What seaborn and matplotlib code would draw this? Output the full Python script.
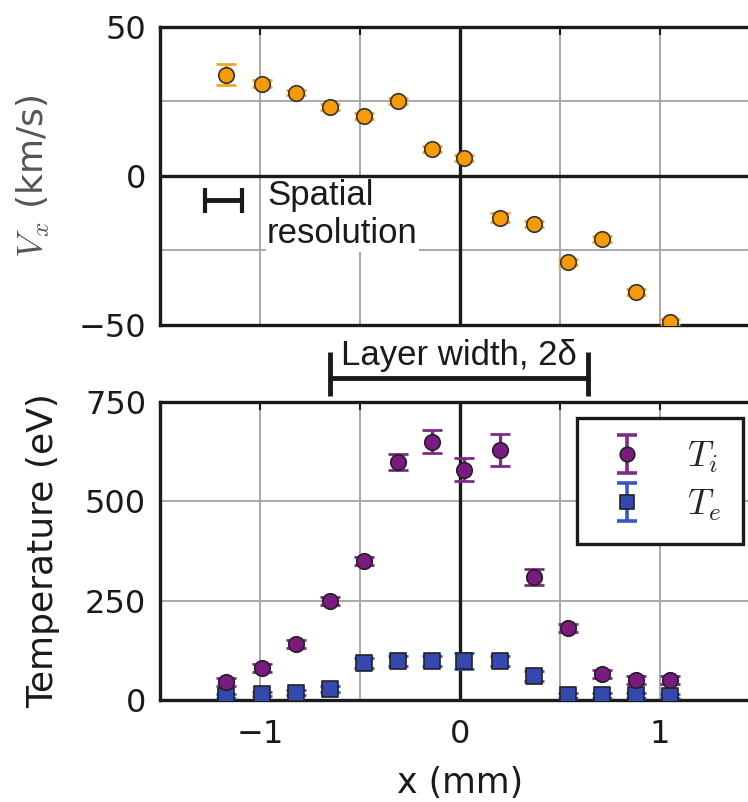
import numpy as np
import pandas as pd
import matplotlib
matplotlib.use('Agg')
import matplotlib.pyplot as plt
import matplotlib.transforms as mtransforms
from matplotlib.path import Path
from matplotlib.lines import Line2D
import seaborn as sns

# ---------------- data ----------------
x_mm = [-1.17, -0.99, -0.82, -0.65, -0.48, -0.31, -0.14, 0.02, 0.20, 0.37, 0.54, 0.71, 0.88, 1.05]
vx = [34, 31, 28, 23, 20, 25, 9, 6, -14, -16, -29, -21, -39, -49]
vx_err = [3.6, 1.2, 1.0, 1.0, 1.0, 1.0, 1.0, 1.0, 1.5, 1.0, 1.0, 1.0, 1.0, 1.0]
ti = [45, 80, 140, 250, 350, 600, 650, 580, 630, 310, 180, 65, 50, 50]
ti_err = [10, 10, 10, 10, 10, 20, 29, 28, 40, 20, 10, 10, 10, 10]
te = [10, 15, 18, 28, 93, 98, 98, 98, 98, 60, 12, 12, 12, 10]
te_err = [6, 6, 6, 8, 12, 12, 12, 21, 12, 12, 6, 6, 6, 6]

x_major = [-1, 0, 1]
x_minor = [-1.5, -0.5, 0.5, 1.5]
vx_major = [-50, 0, 50]
vx_minor = [-25, 25]
t_major = [0, 250, 500, 750]

layer_width = [-0.65, 0.64]
spatial_res_center, spatial_res_half, spatial_res_y = -1.183, 0.093, -8

# ---------------- style ----------------
sns.set_style('white')
plt.rcParams['font.family'] = ['DejaVu Sans']
plt.rcParams['mathtext.fontset'] = 'cm'

ORANGE = '#F59B0B'
ORANGE_E = '#F5A52A'
PURPLE = '#7A1B80'
PURPLE_E = '#7E2A86'
BLUE = '#3548AE'
BLUE_E = '#3A55C8'
DARK = '#1a1a1a'
GRID = '#a3a3a3'

fig = plt.figure(figsize=(7.48, 8.02), dpi=100)
ax1 = fig.add_axes([0.2139, 0.5948, 0.8015, 0.3716])
ax2 = fig.add_axes([0.2139, 0.1272, 0.8015, 0.3716])

for ax in (ax1, ax2):
    ax.set_xlim(-1.5, 1.5)
    ax.set_xticks(x_major)
    ax.set_xticks(x_minor, minor=True)
    ax.set_axisbelow(True)
    ax.grid(True, which='both', color=GRID, lw=1.3)
    ax.axvline(0, color=DARK, lw=2.4, zorder=2)
    for s in ax.spines.values():
        s.set_linewidth(2.4)
        s.set_color(DARK)
    ax.tick_params(which='both', direction='in', length=6, width=1.5,
                   top=True, right=True, colors=DARK, labelsize=23)
    ax.tick_params(axis='x', pad=14)
    ax.tick_params(axis='y', pad=10)

EB = dict(fmt='none', elinewidth=2.4, capsize=7.5, capthick=2.0, zorder=5)

# ---- top panel ----
ax1.set_ylim(-50, 50)
ax1.set_yticks(vx_major)
ax1.set_yticks(vx_minor, minor=True)
ax1.axhline(0, color=DARK, lw=2.4, zorder=4)
ax1.tick_params(axis='x', labelbottom=False)
ax1.errorbar(x_mm, vx, yerr=vx_err, ecolor=ORANGE_E, **EB)
df_v = pd.DataFrame({'x': x_mm, 'v': vx})
sns.scatterplot(data=df_v, x='x', y='v', ax=ax1, color=ORANGE, edgecolor='#333333',
                linewidth=1.2, s=125, zorder=6, legend=False)
ax1.set_xlabel('')
ax1.set_ylabel(r'$V_x$ (km/s)', fontsize=26, color='#555555')
ax1.yaxis.set_label_coords(-0.180, 0.5)

ax1.errorbar([spatial_res_center], [spatial_res_y], xerr=[spatial_res_half], fmt='none',
             ecolor=DARK, elinewidth=3.5, capsize=9, capthick=3, zorder=5)
ax1.text(-0.965, -1.0, 'Spatial\nresolution', fontsize=25, family=['Liberation Sans'],
         va='top', ha='left', color=DARK, zorder=3,
         bbox=dict(facecolor='white', edgecolor='none', pad=1))

# ---- bottom panel ----
ax2.set_ylim(0, 750)
ax2.set_yticks(t_major)
ax2.errorbar(x_mm, te, yerr=te_err, ecolor=BLUE_E, **EB)
ax2.errorbar(x_mm, ti, yerr=ti_err, ecolor=PURPLE_E, **EB)
df_t = pd.DataFrame({'x': x_mm, 'Ti': ti, 'Te': te})
sns.scatterplot(data=df_t, x='x', y='Te', ax=ax2, color=BLUE, marker='s', edgecolor='#222222',
                linewidth=1.2, s=125, zorder=6, legend=False)
sns.scatterplot(data=df_t, x='x', y='Ti', ax=ax2, color=PURPLE, marker='o', edgecolor='#222222',
                linewidth=1.2, s=125, zorder=7, legend=False)
ax2.set_xlabel('x (mm)', fontsize=25, color=DARK, labelpad=11)
ax2.set_ylabel('Temperature (eV)', fontsize=26, color=DARK)
ax2.yaxis.set_label_coords(-0.1668, 0.5)

# legend proxies: an I-beam (error bar with caps) overlaid by the data marker
ibeam = Path([(0, -1), (0, 1), (-0.55, 1), (0.55, 1), (-0.55, -1), (0.55, -1)],
             [Path.MOVETO, Path.LINETO, Path.MOVETO, Path.LINETO, Path.MOVETO, Path.LINETO])
def err_proxy(color):
    return Line2D([], [], ls='none', marker=ibeam, ms=27, mew=2.6, mec=color, mfc='none')
h_ti = (err_proxy(PURPLE_E),
        Line2D([], [], ls='none', marker='o', ms=10.5, mfc=PURPLE, mec='#222222', mew=1.2))
h_te = (err_proxy(BLUE_E),
        Line2D([], [], ls='none', marker='s', ms=10, mfc=BLUE, mec='#222222', mew=1.2))
leg = ax2.legend(handles=[h_ti, h_te], labels=[r'$T_i$', r'$T_e$'],
                 loc='upper right', bbox_to_anchor=(0.9725, 0.946), borderaxespad=0,
                 fontsize=26, frameon=True, fancybox=False, edgecolor=DARK, framealpha=1,
                 handlelength=1.6, handletextpad=0.86, borderpad=0.6, labelspacing=0.35,
                 numpoints=1)
leg.get_frame().set_linewidth(2.4)

# layer width bracket
trans = mtransforms.blended_transform_factory(ax2.transData, ax2.transAxes)
ax2.plot(layer_width, [1.0805, 1.0805], transform=trans, color=DARK, lw=3.5,
         clip_on=False, solid_capstyle='butt')
for xv in layer_width:
    ax2.plot([xv, xv], [1.02, 1.168], transform=trans, color=DARK, lw=3.5,
             clip_on=False, solid_capstyle='butt')
ax2.text(np.mean(layer_width), 1.124, 'Layer width, 2δ', transform=trans, ha='center',
         va='baseline', fontsize=25, family=['Liberation Sans'], color=DARK)

fig.savefig('out.png', dpi=100)
